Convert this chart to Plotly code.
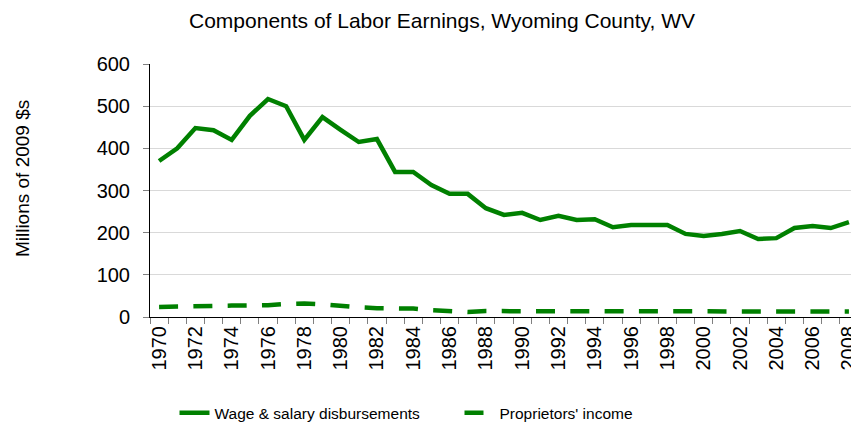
import plotly.graph_objects as go

years = list(range(1970, 2009))
wage_salary = [370, 400, 448, 443, 420, 477, 517, 500, 420, 474,
               444, 415, 422, 344, 344, 313, 292, 292, 258, 242,
               247, 230, 240, 230, 232, 213, 218, 218, 218, 197,
               192, 197, 204, 185, 187, 211, 216, 211, 225]
proprietors = [24, 24, 25, 26, 27, 27, 28, 31, 32, 30,
               26, 23, 21, 21, 20, 16, 13, 12, 14, 14,
               14, 13, 13, 13, 13, 14, 14, 14, 13, 13,
               13, 14, 14, 12, 12, 13, 13, 13, 13]
x_tick_years = list(range(1970, 2009, 2))
y_ticks = [0, 100, 200, 300, 400, 500, 600]

GREEN = "#008000"
FONT = "Liberation Sans, Arial, sans-serif"

fig = go.Figure()
fig.add_trace(go.Scatter(x=years, y=wage_salary, mode="lines",
                         name="Wage & salary disbursements",
                         line=dict(color=GREEN, width=4.5)))
fig.add_trace(go.Scatter(x=years, y=proprietors, mode="lines",
                         name="Proprietors' income",
                         line=dict(color=GREEN, width=4.5, dash="19px,15.3px")))

# page body has an 8px default margin, so the figure is sized/offset to match
fig.update_layout(
    width=851, height=417,
    margin=dict(l=142, r=1, t=56, b=108, autoexpand=False),
    paper_bgcolor="white", plot_bgcolor="white",
    font=dict(family=FONT, color="black", size=17),
    title=dict(text="Components of Labor Earnings, Wyoming County, WV",
               x=0.51, xref="container", xanchor="center", y=0.97, yanchor="middle",
               font=dict(size=21, family=FONT, color="black")),
    showlegend=True,
    legend=dict(orientation="h", x=0.0346, xanchor="left", y=-0.38, yanchor="middle",
                font=dict(size=15.5, family=FONT, color="black"),
                entrywidth=240, entrywidthmode="pixels",
                bgcolor="rgba(0,0,0,0)"),
    annotations=[dict(text="Millions of 2009 $s", textangle=-90,
                      xref="paper", yref="paper", x=0, y=0.545,
                      xanchor="center", yanchor="middle", xshift=-128,
                      showarrow=False,
                      font=dict(size=19, family=FONT, color="black"))],
)
fig.update_xaxes(
    range=[1969.5, 2008.5], automargin=False, ticklabeloverflow="allow",
    tickmode="array", tickvals=x_tick_years, ticktext=[str(y) for y in x_tick_years],
    tickangle=-90, ticks="", showgrid=False, zeroline=False,
    showline=True, linecolor="black", linewidth=1,
    tickfont=dict(size=20, family=FONT, color="black"),
    minor=dict(ticks="outside", tick0=1969.5, dtick=1, ticklen=6,
               tickcolor="#808080", showgrid=False),
)
fig.update_yaxes(
    range=[0, 600], tickmode="array", tickvals=y_ticks, automargin=False,
    ticks="outside", ticklen=6, tickcolor="#808080",
    showgrid=True, gridcolor="#d9d9d9", gridwidth=1, zeroline=False,
    showline=True, linecolor="black", linewidth=1,
    tickfont=dict(size=20, family=FONT, color="black"),
    ticklabelstandoff=9,
)

fig.write_html("out.html")
